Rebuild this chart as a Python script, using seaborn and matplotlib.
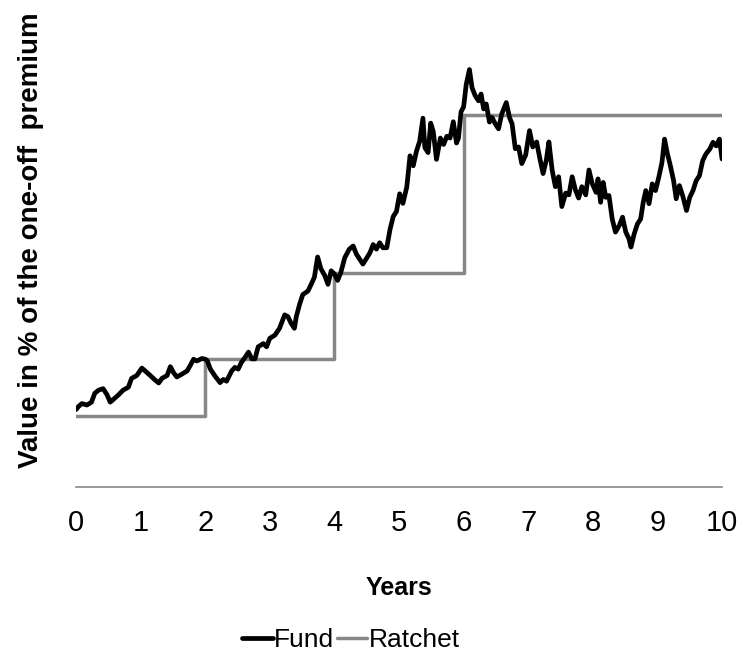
import pandas as pd
import numpy as np
import seaborn as sns
import matplotlib.pyplot as plt

sns.set_style("white")
plt.rcParams['font.family'] = ['Liberation Sans', 'DejaVu Sans']
plt.rcParams['text.color'] = 'black'
plt.rcParams['axes.labelcolor'] = 'black'
plt.rcParams['xtick.color'] = 'black'

# fund path (years, % of premium)
fund_years = [0.00, 0.04, 0.09, 0.17, 0.24, 0.29, 0.35, 0.42, 0.48, 0.53, 0.58, 0.66, 0.73, 0.81, 0.86, 0.94,
              1.02, 1.07, 1.15, 1.22, 1.28, 1.33, 1.41, 1.46, 1.51, 1.56, 1.64, 1.72, 1.77, 1.82, 1.87, 1.95,
              2.00, 2.03, 2.08, 2.15, 2.23, 2.28, 2.33, 2.41, 2.46, 2.51, 2.56, 2.62, 2.67, 2.72, 2.77, 2.82,
              2.90, 2.95, 3.00, 3.08, 3.15, 3.23, 3.28, 3.33, 3.38, 3.41, 3.46, 3.51, 3.59, 3.64, 3.69, 3.74,
              3.79, 3.85, 3.90, 3.95, 4.00, 4.05, 4.10, 4.16, 4.23, 4.29, 4.34, 4.39, 4.44, 4.49, 4.55, 4.60,
              4.65, 4.70, 4.75, 4.81, 4.86, 4.91, 4.96, 5.01, 5.06, 5.12, 5.17, 5.22, 5.27, 5.32, 5.37, 5.40,
              5.45, 5.49, 5.53, 5.58, 5.64, 5.69, 5.74, 5.79, 5.84, 5.89, 5.92, 5.96, 6.00, 6.04, 6.09, 6.13,
              6.18, 6.23, 6.27, 6.31, 6.35, 6.40, 6.44, 6.49, 6.54, 6.59, 6.66, 6.71, 6.75, 6.80, 6.85, 6.90,
              6.96, 7.02, 7.07, 7.13, 7.18, 7.23, 7.28, 7.32, 7.37, 7.42, 7.47, 7.52, 7.58, 7.63, 7.68, 7.73,
              7.78, 7.83, 7.89, 7.94, 7.99, 8.05, 8.08, 8.12, 8.16, 8.20, 8.25, 8.30, 8.35, 8.41, 8.46, 8.51,
              8.56, 8.59, 8.64, 8.69, 8.74, 8.78, 8.82, 8.87, 8.92, 8.97, 9.02, 9.07, 9.11, 9.15, 9.20, 9.25,
              9.29, 9.34, 9.39, 9.45, 9.50, 9.55, 9.60, 9.65, 9.70, 9.75, 9.81, 9.86, 9.91, 9.96, 10.00]
fund_values = [101.8, 102.7, 103.5, 103.1, 103.9, 106.4, 107.3, 107.7, 106.0, 103.9, 104.7, 106.0, 107.3, 108.1, 110.6, 111.4,
               113.5, 112.7, 111.4, 110.2, 109.3, 110.6, 111.4, 113.9, 112.2, 111.0, 111.8, 112.7, 114.3, 116.0, 115.5, 116.2,
               116.0, 115.6, 113.2, 111.3, 109.4, 110.3, 109.8, 112.7, 113.7, 113.2, 115.1, 116.6, 118.0, 116.1, 116.1, 119.5,
               120.4, 119.5, 121.9, 122.8, 124.7, 128.5, 128.0, 126.1, 124.7, 128.0, 131.4, 134.2, 135.2, 137.1, 139.1, 144.8,
               141.5, 139.6, 137.1, 140.9, 140.0, 138.2, 140.5, 144.6, 147.0, 147.9, 145.6, 144.2, 142.8, 144.2, 146.0, 148.3,
               147.0, 148.8, 147.4, 147.4, 152.5, 156.2, 157.6, 162.6, 159.9, 164.5, 173.3, 170.5, 174.6, 177.4, 183.9, 175.6,
               174.2, 182.5, 180.1, 172.3, 178.3, 176.5, 178.8, 178.3, 182.9, 176.9, 178.3, 185.7, 187.1, 193.4, 197.6, 192.5,
               190.2, 188.8, 190.7, 186.5, 187.9, 182.8, 184.1, 182.3, 180.9, 185.1, 188.3, 184.1, 182.3, 175.3, 175.8, 171.1,
               173.5, 180.4, 175.8, 177.2, 172.5, 168.3, 172.1, 177.2, 169.3, 164.6, 167.4, 159.0, 162.8, 162.3, 167.4, 163.7,
               161.4, 164.6, 162.3, 169.3, 165.5, 163.0, 166.8, 160.2, 165.8, 161.6, 162.1, 155.5, 151.8, 153.7, 156.0, 151.8,
               149.9, 147.6, 151.3, 154.1, 155.5, 160.2, 163.5, 159.8, 165.4, 163.5, 167.2, 171.4, 178.0, 174.2, 170.5, 166.3,
               161.2, 164.9, 162.1, 157.9, 161.6, 163.5, 166.3, 167.7, 171.9, 173.8, 175.2, 177.1, 176.1, 178.0, 172.4]

# ratchet levels, reset every two years
ratchet_years = [0, 2, 4, 6, 10]
ratchet_levels = [100.0, 116.1, 140.3, 184.8, 184.8]

fund_df = pd.DataFrame({'Years': fund_years, 'Value': fund_values})
ratchet_df = pd.DataFrame({'Years': ratchet_years, 'Value': ratchet_levels})

fig = plt.figure(figsize=(7.43, 6.59), dpi=100)
ax = fig.add_axes([0.1023, 0.2610, 0.8695, 0.6464])

sns.lineplot(data=ratchet_df, x='Years', y='Value', ax=ax, color='#878787',
             linewidth=2.5, drawstyle='steps-post', estimator=None, label='Ratchet')
sns.lineplot(data=fund_df, x='Years', y='Value', ax=ax, color='black',
             linewidth=3.4, estimator=None, label='Fund')

ax.set_xlim(0, 10)
ax.set_ylim(80, 200)
ax.set_xticks(range(0, 11))
ax.set_yticks([])
ax.tick_params(axis='x', direction='out', length=7, width=1.2, color='#888888',
               labelcolor='black', labelsize=21, pad=9)

for s in ['left', 'top', 'right']:
    ax.spines[s].set_visible(False)
ax.spines['bottom'].set_color('#888888')
ax.spines['bottom'].set_linewidth(1.2)

ax.set_xlabel('Years', fontsize=18, fontweight='bold', labelpad=28)
ax.set_ylabel('Value in % of the one-off  premium', fontsize=20, fontweight='bold')
ax.yaxis.set_label_coords(-0.05, 0.58)

# legend below, Fund first
handles, labels = ax.get_legend_handles_labels()
ax.get_legend().remove()
order = [labels.index('Fund'), labels.index('Ratchet')]
fig.legend([handles[i] for i in order], [labels[i] for i in order],
           loc='center', bbox_to_anchor=(351 / 743, 1 - 640 / 659), ncol=2,
           frameon=False, fontsize=19, handlelength=1.15, handletextpad=0.05,
           columnspacing=0.1)

fig.savefig('out.png', dpi=100)
